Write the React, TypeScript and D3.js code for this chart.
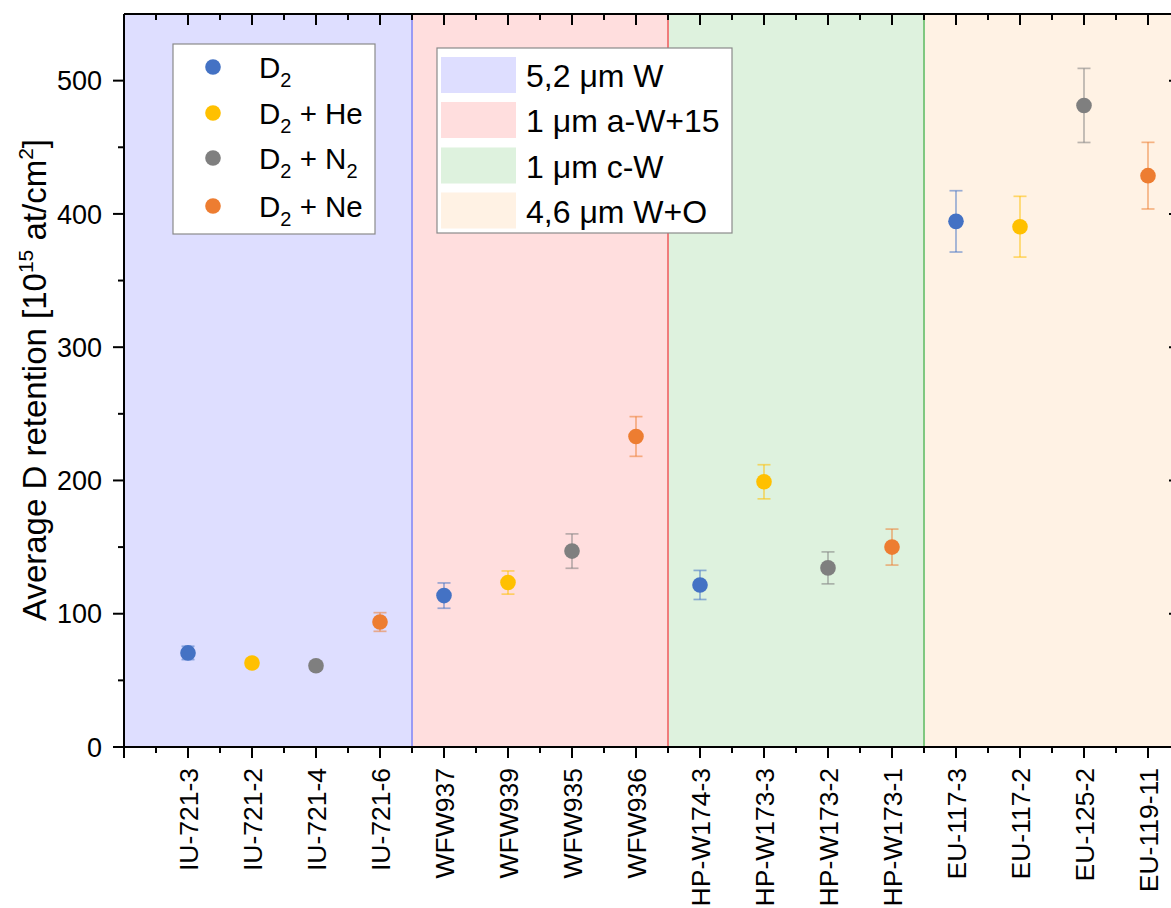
import React from "react";
import * as d3 from "d3";

const samples = ["IU-721-3","IU-721-2","IU-721-4","IU-721-6","WFW937","WFW939","WFW935","WFW936","HP-W174-3","HP-W173-3","HP-W173-2","HP-W173-1","EU-117-3","EU-117-2","EU-125-2","EU-119-11"];
const gasIndex = [0,1,2,3,0,1,2,3,0,1,2,3,0,1,2,3];
const retention = [70.6, 63, 61, 93.8, 113.6, 123.4, 147, 233, 121.6, 199, 134.4, 150, 394.4, 390.4, 481.4, 428.7];
const retentionErr = [5, 3, 3, 7, 9.5, 8.7, 12.9, 14.9, 10.9, 12.8, 12, 13.5, 23, 22.8, 27.8, 25];
const gasNames = [["D", "2", ""], ["D", "2", " + He"], ["D", "2", " + N", "2"], ["D", "2", " + Ne"]];
const gasColors = ["#4472C4", "#FFC000", "#7F7F7F", "#ED7D31"];
const materials = ["5,2 μm W", "1 μm a-W+15", "1 μm c-W", "4,6 μm W+O"];
const materialStart = [0, 4.5, 8.5, 12.5];
const materialEnd = [4.5, 8.5, 12.5, 16.5];
const materialFill = ["#DEDEFF", "#FFDEDE", "#DEF2DE", "#FFF2E4"];
const materialStroke = ["#9A9AF5", "#F07C7C", "#80C880", "#F5B58A"];
const yMajor = [0, 100, 200, 300, 400, 500];
const yMinor = [50, 150, 250, 350, 450];

const FONT = "'Liberation Sans', Arial, sans-serif";

export default function App() {
  const left = 124, right = 1180, top = 14, bottom = 747;
  const x = d3.scaleLinear().domain([0, 16.5]).range([left, right]);
  const y = d3.scaleLinear().domain([0, 550]).range([bottom, top]);
  const xMajor = d3.range(0, 17);
  const xMinor = d3.range(0.5, 16.5, 1);

  return (
    <svg width={1171} height={908} style={{ position: "absolute", left: 0, top: 0, background: "#fff" }} fontFamily={FONT}>
      <defs>
        <clipPath id="plot"><rect x={left} y={top} width={right - left} height={bottom - top} /></clipPath>
      </defs>
      {materials.map((m, i) => (
        <rect key={"r" + m} x={x(materialStart[i])} y={top} width={x(materialEnd[i]) - x(materialStart[i])} height={bottom - top} fill={materialFill[i]} />
      ))}
      {materials.map((m, i) => (
        <line key={"b" + m} x1={x(materialEnd[i])} x2={x(materialEnd[i])} y1={top} y2={bottom} stroke={materialStroke[i]} strokeWidth={2} />
      ))}
      <g clipPath="url(#plot)">
        {samples.map((s, i) => {
          const cx = x(i + 1);
          const c = gasColors[gasIndex[i]];
          const y1 = y(retention[i] + retentionErr[i]);
          const y2 = y(retention[i] - retentionErr[i]);
          return (
            <g key={s}>
              <g stroke={c} strokeOpacity={0.55} strokeWidth={1.7}>
                <line x1={cx} x2={cx} y1={y1} y2={y2} />
                <line x1={cx - 6.5} x2={cx + 6.5} y1={y1} y2={y1} />
                <line x1={cx - 6.5} x2={cx + 6.5} y1={y2} y2={y2} />
              </g>
              <circle cx={cx} cy={y(retention[i])} r={7.8} fill={c} />
            </g>
          );
        })}
      </g>
      <g stroke="#000" strokeWidth={2}>
        <line x1={left} x2={right} y1={bottom} y2={bottom} />
        <line x1={left} x2={right} y1={top} y2={top} />
        <line x1={left} x2={left} y1={top} y2={bottom} />
        <line x1={right} x2={right} y1={top} y2={bottom} />
      </g>
      <g stroke="#000" strokeWidth={2}>
        {xMajor.map((v) => (
          <g key={"xm" + v}>
            <line x1={x(v)} x2={x(v)} y1={bottom} y2={bottom + 11} />
            <line x1={x(v)} x2={x(v)} y1={top} y2={top + 11} />
          </g>
        ))}
        {xMinor.map((v) => (
          <g key={"xn" + v}>
            <line x1={x(v)} x2={x(v)} y1={bottom} y2={bottom + 6} />
            <line x1={x(v)} x2={x(v)} y1={top} y2={top + 6} />
          </g>
        ))}
        {yMajor.map((v) => (
          <g key={"ym" + v}>
            <line x1={left - 11} x2={left} y1={y(v)} y2={y(v)} />
            <line x1={right - 11} x2={right} y1={y(v)} y2={y(v)} />
          </g>
        ))}
        {yMinor.map((v) => (
          <g key={"yn" + v}>
            <line x1={left - 6} x2={left} y1={y(v)} y2={y(v)} />
            <line x1={right - 6} x2={right} y1={y(v)} y2={y(v)} />
          </g>
        ))}
      </g>
      {yMajor.map((v) => (
        <text key={"yl" + v} x={102} y={y(v)} dy="0.36em" textAnchor="end" fontSize={27} fill="#000">{v}</text>
      ))}
      {samples.map((s, i) => (
        <text key={"xl" + s} transform={`translate(${x(i + 1)},768) rotate(-90)`} dy="0.36em" textAnchor="end" fontSize={26.5} fill="#000">{s}</text>
      ))}
      <text transform="translate(46,380) rotate(-90)" textAnchor="middle" fontSize={33} fill="#000">
        Average D retention [10<tspan dy={-13} fontSize={21}>15</tspan><tspan dy={13}> at/cm</tspan><tspan dy={-13} fontSize={21}>2</tspan><tspan dy={13}>]</tspan>
      </text>
      <rect x={173} y={44} width={202} height={190} fill="#fff" stroke="#8a8a8a" strokeWidth={1.2} />
      {gasNames.map((g, i) => {
        const cy = [67, 113, 158, 206][i];
        return (
          <g key={"lg" + i}>
            <circle cx={213} cy={cy} r={7.8} fill={gasColors[i]} />
            <text x={259} y={cy + 10.5} fontSize={29.5} fill="#000">
              {g[0]}<tspan dy={9} fontSize={20}>{g[1]}</tspan><tspan dy={-9}>{g[2]}</tspan>
              {g[3] ? <tspan dy={9} fontSize={20}>{g[3]}</tspan> : null}
            </text>
          </g>
        );
      })}
      <rect x={437} y={48} width={295} height={185} fill="#fff" stroke="#8a8a8a" strokeWidth={1.2} />
      {materials.map((m, i) => {
        const cy = [75, 120, 165.5, 210.5][i];
        return (
          <g key={"lm" + i}>
            <rect x={441} y={cy - 18} width={75} height={36} fill={materialFill[i]} />
            <text x={526} y={cy + 12} fontSize={32} fill="#000">{m}</text>
          </g>
        );
      })}
    </svg>
  );
}
